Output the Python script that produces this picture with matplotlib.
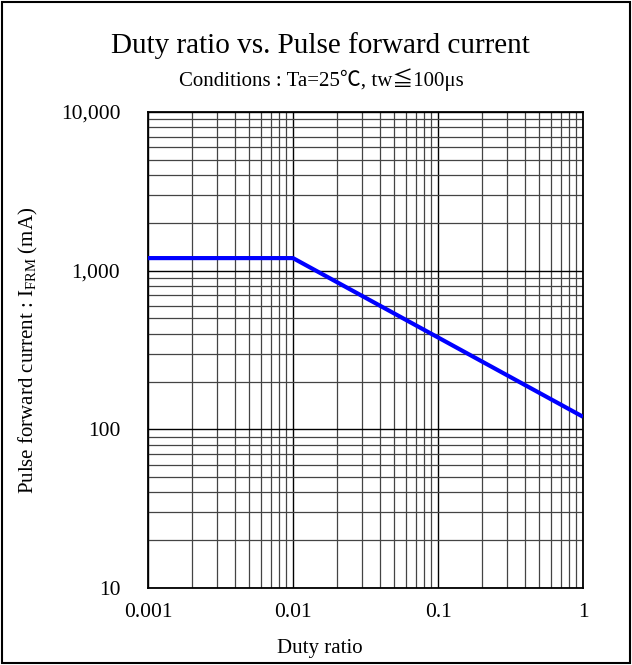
import numpy as np
import matplotlib
matplotlib.use('Agg')
import matplotlib.pyplot as plt
from matplotlib.ticker import FixedLocator, LogLocator, NullFormatter
from matplotlib.patches import Rectangle

# Datos
duty = [0.001, 0.01, 1.0]
ifrm = [1200, 1200, 120]

x_ticks = [0.001, 0.01, 0.1, 1]
x_labels = ['0.001', '0.01', '0.1', '1']
y_ticks = [10, 100, 1000, 10000]
y_labels = ['10', '100', '1,000', '10,000']

plt.rcParams['font.family'] = ['Liberation Serif', 'Noto Sans CJK JP', 'DejaVu Sans']
plt.rcParams['mathtext.fontset'] = 'custom'
plt.rcParams['mathtext.rm'] = 'Liberation Serif'

fig = plt.figure(figsize=(6.32, 6.65), dpi=100)
ax = fig.add_axes([148 / 632., 1 - 588 / 665., (583 - 148) / 632., (588 - 112) / 665.])

ax.set_xscale('log')
ax.set_yscale('log')
ax.set_xlim(0.001, 1)
ax.set_ylim(10, 10000)

ax.xaxis.set_major_locator(FixedLocator(x_ticks))
ax.set_xticklabels(x_labels, fontsize=15.5)
ax.yaxis.set_major_locator(FixedLocator(y_ticks))
ax.set_yticklabels(y_labels, fontsize=15.5)
ax.xaxis.set_minor_locator(LogLocator(base=10, subs=np.arange(2, 10)))
ax.yaxis.set_minor_locator(LogLocator(base=10, subs=np.arange(2, 10)))
ax.xaxis.set_minor_formatter(NullFormatter())
ax.yaxis.set_minor_formatter(NullFormatter())
ax.tick_params(axis='x', which='both', length=0, pad=11)
ax.tick_params(axis='y', which='both', length=0, pad=20)

ax.grid(True, which='major', color='black', linewidth=1.0)
ax.grid(True, which='minor', color='#444444', linewidth=0.9)
for s in ax.spines.values():
    s.set_linewidth(1.3)

ax.plot(duty, ifrm, color='#0000ff', linewidth=3, solid_capstyle='butt', zorder=5)

ax.set_xlabel('Duty ratio', fontsize=15)
ax.xaxis.set_label_coords(320 / 632., 1 - 639 / 665., transform=fig.transFigure)
ax.set_ylabel('Pulse forward current : I$_\\mathregular{FRM}$ (mA)', fontsize=15)
ax.yaxis.set_label_coords(40 / 632., 1 - 350 / 665., transform=fig.transFigure)

fig.text(320 / 632., 1 - 46 / 665., 'Duty ratio vs. Pulse forward current', ha='center', va='center', fontsize=21)
fig.text(321 / 632., 1 - 80 / 665., 'Conditions : Ta=25\u2103, tw\u2266100\u03bcs', ha='center', va='center', fontsize=15)

fig.patches.append(Rectangle((0.003, 0.003), 0.994, 0.994, transform=fig.transFigure,
                             fill=False, edgecolor='black', linewidth=1.5))

plt.savefig('out.png', dpi=100)
